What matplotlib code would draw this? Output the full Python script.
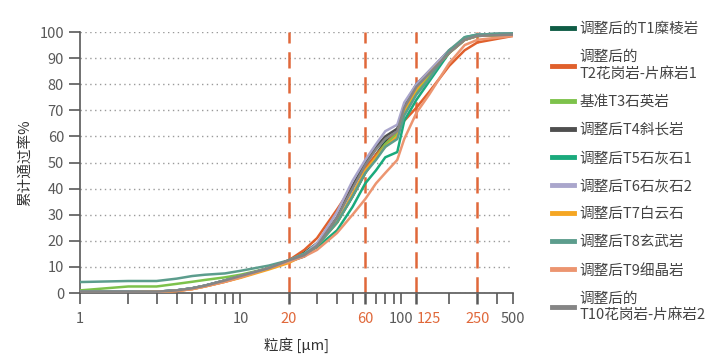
import matplotlib.pyplot as plt
from matplotlib.ticker import FixedLocator, NullFormatter, FixedFormatter

plt.rcParams['font.family'] = ['Noto Sans CJK SC', 'DejaVu Sans']

# particle size (um)
size_um = [1, 2, 3, 4, 5, 6, 8, 10, 15, 20, 25, 30, 40, 50, 60, 70, 80, 95, 105, 125, 150, 200, 250, 300, 500]

labels = ['调整后的T1糜棱岩', '调整后的\nT2花岗岩-片麻岩1', '基准T3石英岩', '调整后T4斜长岩',
          '调整后T5石灰石1', '调整后T6石灰石2', '调整后T7白云石', '调整后T8玄武岩',
          '调整后T9细晶岩', '调整后的\nT10花岗岩-片麻岩2']
colors = ['#0f5c45', '#e0602c', '#7dc24b', '#4f4f4f', '#1aaa7c',
          '#aaa6cc', '#f5a623', '#5c9d8d', '#ec9570', '#858585']

t1 = [0.5, 0.5, 0.5, 1.0, 1.8, 2.8, 4.8, 6.5, 9.5, 12.5, 15.5, 19, 27, 37, 46, 53, 58, 62, 70, 78, 83, 92, 97, 98.5, 99]
t2 = [0.3, 0.3, 0.4, 0.8, 1.5, 2.5, 4.3, 6.0, 9.5, 12.5, 16.5, 21, 32, 41, 48, 53, 57, 62, 66, 71, 77, 87, 93, 96, 98.5]
t3 = [1.0, 2.5, 2.5, 3.5, 4.3, 5.0, 6.0, 7.0, 9.5, 12, 15, 18.5, 27, 37, 46, 52, 57, 61, 69, 77, 83, 92, 97, 98.5, 99]
t4 = [0.5, 0.5, 0.5, 1.0, 1.8, 2.8, 4.8, 6.5, 9.5, 12, 14, 18, 29, 41, 50, 56, 60, 63, 72, 80, 85, 93, 97, 99, 99.5]
t5 = [0.5, 0.5, 0.5, 1.0, 1.8, 2.8, 4.8, 6.3, 9.5, 12.5, 15, 17.5, 24, 33, 42, 47, 52, 54, 66, 74, 81, 92, 98, 99, 99.5]
t6 = [0.5, 0.5, 0.5, 1.0, 1.8, 2.8, 4.8, 6.5, 9.5, 12.5, 15, 19, 31, 43, 51, 57, 62, 64.5, 73, 80, 85, 93, 97, 99, 99.5]
t7 = [0.3, 0.3, 0.4, 0.8, 1.5, 2.5, 4.3, 5.8, 9.0, 11.5, 14.5, 18, 27, 38, 47, 52, 56, 60, 70, 78, 84, 92, 97, 98.5, 99]
t8 = [4.2, 4.6, 4.6, 5.5, 6.5, 7.0, 7.5, 8.5, 10.5, 12.5, 15, 18, 27, 37, 46, 51, 56, 59, 68, 76, 82, 93, 98, 99, 99.5]
t9 = [0.3, 0.3, 0.4, 0.8, 1.5, 2.5, 4.3, 6.0, 9.5, 12, 14, 16.5, 23, 30, 36, 42, 46, 51, 59, 69, 76, 88, 95, 97, 98.5]
t10 = [0.5, 0.5, 0.5, 1.0, 1.8, 2.8, 4.8, 6.5, 9.5, 12.5, 14.5, 18, 29, 40, 49, 55, 59, 62, 71, 79, 84, 92, 97, 98.5, 99]
series = [t1, t2, t3, t4, t5, t6, t7, t8, t9, t10]

# orange guide lines (the "250" line sits where the picture draws it)
guide_pos = [20, 60, 125, 300]
guide_labels = ['20', '60', '125', '250']
plain_pos = [1, 10, 100, 500]
plain_labels = ['1', '10', '100', '500']
minor_pos = [2, 3, 4, 5, 6, 7, 8, 9, 30, 40, 50, 70, 80, 90, 200, 400]

gray = '#595959'
orange = '#e0683a'

fig = plt.figure(figsize=(7.23, 3.62), dpi=100)
ax = fig.add_axes([0.1107, 0.1906, 0.5988, 0.721])

for s, c, lab in zip(series, colors, labels):
    ax.plot(size_um, s, color=c, lw=1.8, label=lab, zorder=3)

for g in guide_pos:
    ax.axvline(g, color=orange, lw=1.8, dashes=(6.5, 3.5), zorder=2)

ax.set_xscale('log')
ax.set_xlim(1, 500)
ax.set_ylim(0, 100)

major = plain_pos + guide_pos
major_labels = plain_labels + guide_labels
ax.xaxis.set_major_locator(FixedLocator(major))
ax.xaxis.set_major_formatter(FixedFormatter(major_labels))
ax.xaxis.set_minor_locator(FixedLocator(minor_pos))
ax.xaxis.set_minor_formatter(NullFormatter())
ax.set_yticks(range(0, 101, 10))

ax.tick_params(axis='both', which='both', direction='out', length=8, width=1.2,
               colors=gray, labelsize=10.5)
ax.tick_params(axis='x', pad=6)
for tick, lab in zip(ax.xaxis.get_major_ticks(), major_labels):
    if lab in guide_labels:
        tick.tick1line.set_color(orange)
        tick.tick1line.set_markeredgewidth(1.8)
        tick.label1.set_color(orange)
    if lab == '125':
        tick.label1.set_horizontalalignment('left')

for sp in ['top', 'right']:
    ax.spines[sp].set_visible(False)
for sp in ['left', 'bottom']:
    ax.spines[sp].set_color(gray)
    ax.spines[sp].set_linewidth(1.2)

ax.yaxis.grid(True, linestyle=(0, (1, 2.5)), color='#9a9a9a', lw=1)
ax.set_axisbelow(True)

ax.set_xlabel('粒度 [μm]', fontsize=10.5, color='#333333', labelpad=8)
ax.set_ylabel('累计通过率%', fontsize=10.5, color='#333333', labelpad=5.5)

fig.legend(loc='upper left', bbox_to_anchor=(0.745, 0.975), frameon=False,
           fontsize=10.5, handlelength=1.5, handletextpad=0.4, labelspacing=0.97,
           labelcolor='#444444')
for line in fig.legends[0].get_lines():
    line.set_linewidth(3.5)

fig.savefig('out.png', dpi=100)
